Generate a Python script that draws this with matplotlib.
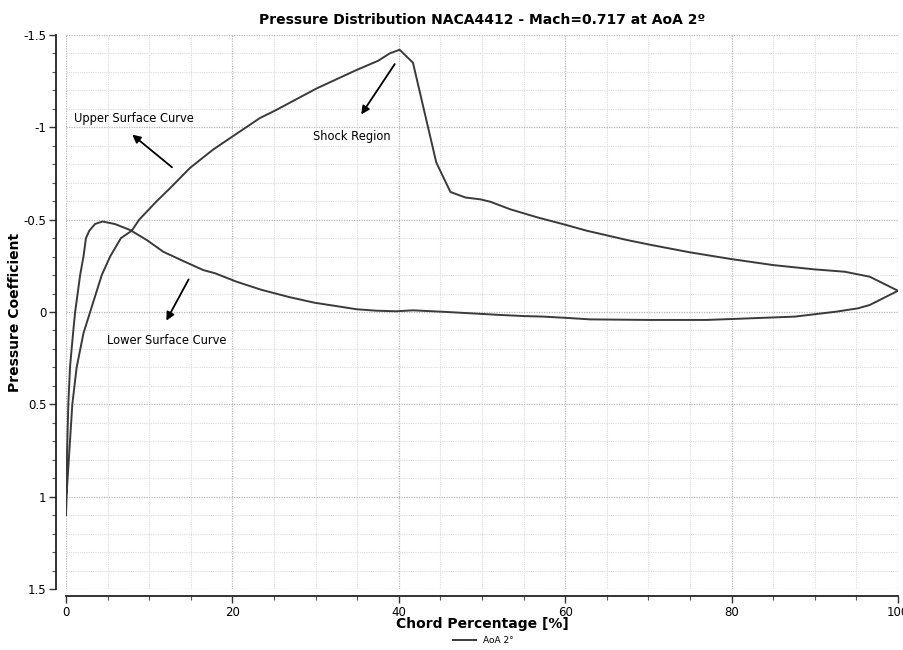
import matplotlib
matplotlib.use("Agg")
import matplotlib.pyplot as plt
from matplotlib.ticker import MultipleLocator, FuncFormatter

# Upper surface (leading edge -> trailing edge)
upper_x = [0, 0.05, 0.28, 0.76, 1.28, 2.1, 2.9, 3.6, 4.3, 5.3, 6.6, 7.9, 8.8, 10.9, 12.5,
           14.9, 17.7, 20.0, 23.3, 25.1, 30.1, 34.9, 37.5, 38.9, 40.1, 41.7, 44.5, 46.2,
           48.0, 49.8, 51.0, 53.4, 56.6, 59.8, 62.6, 65.0, 67.4, 70.1, 75.0, 79.9, 85.0,
           89.9, 93.6, 96.6, 100]
upper_cp = [1.1, 1.0, 0.84, 0.5, 0.3, 0.115, 0.0, -0.1, -0.2, -0.3, -0.4, -0.44, -0.5, -0.6,
            -0.67, -0.78, -0.88, -0.95, -1.05, -1.09, -1.21, -1.31, -1.36, -1.40, -1.42,
            -1.35, -0.81, -0.65, -0.62, -0.61, -0.597, -0.556, -0.513, -0.475, -0.44,
            -0.415, -0.39, -0.365, -0.323, -0.287, -0.254, -0.231, -0.218, -0.191, -0.115]

# Lower surface (leading edge -> trailing edge)
lower_x = [0, 0.08, 0.28, 0.48, 0.88, 1.1, 1.4, 1.7, 2.1, 2.4, 2.8, 3.5, 4.4, 5.9, 7.7,
           9.7, 11.7, 13.9, 16.5, 17.9, 20.5, 23.5, 26.9, 29.9, 32.5, 34.9, 37.3, 39.7,
           41.7, 45.0, 48.6, 52.2, 55.0, 57.4, 60.2, 63.0, 70.0, 77.0, 80.0, 87.6, 92.6,
           95.2, 96.6, 100]
lower_cp = [1.1, 0.84, 0.5, 0.3, 0.1, 0.0, -0.1, -0.2, -0.3, -0.4, -0.44, -0.477, -0.49,
            -0.476, -0.444, -0.39, -0.326, -0.28, -0.227, -0.21, -0.164, -0.12, -0.08,
            -0.05, -0.032, -0.015, -0.007, -0.004, -0.009, -0.002, 0.007, 0.016, 0.022,
            0.025, 0.032, 0.04, 0.043, 0.043, 0.038, 0.025, -0.002, -0.02, -0.038, -0.115]

# Single closed series: TE -> upper -> LE -> lower -> TE
series_x = upper_x[::-1] + lower_x[1:]
series_cp = upper_cp[::-1] + lower_cp[1:]
series_label = "AoA 2°"

title = "Pressure Distribution NACA4412 - Mach=0.717 at AoA 2º"
xlabel = "Chord Percentage [%]"
ylabel = "Pressure Coefficient"

fig = plt.figure(figsize=(9.04, 6.5), dpi=100)
ax = fig.add_axes([0.073, 0.0938, 0.9204, 0.8524])

ax.plot(series_x, series_cp, color="#3a3a3a", lw=1.4, label=series_label)

ax.set_xlim(0, 100)
ax.set_ylim(1.5, -1.5)

ax.xaxis.set_major_locator(MultipleLocator(20))
ax.xaxis.set_minor_locator(MultipleLocator(5))
ax.yaxis.set_major_locator(MultipleLocator(0.5))
ax.yaxis.set_minor_locator(MultipleLocator(0.1))
ax.yaxis.set_major_formatter(FuncFormatter(lambda v, p: f"{v:g}"))

ax.grid(which="major", color="#b8b8b8", linestyle=(0, (1, 1)), lw=0.9)
ax.grid(which="minor", color="#dcdcdc", linestyle=(0, (1, 1)), lw=0.8)
ax.set_axisbelow(True)

for s in ("top", "right"):
    ax.spines[s].set_visible(False)
ax.spines["left"].set_position(("outward", 7))
ax.spines["bottom"].set_position(("outward", 5))
for s in ("left", "bottom"):
    ax.spines[s].set_linewidth(1.3)
    ax.spines[s].set_color("#222222")

ax.tick_params(which="major", length=5, width=1.0, labelsize=8.5, color="#333333", pad=2)
ax.tick_params(which="minor", length=3, width=0.8, color="#555555")

ax.set_title(title, fontsize=10, fontweight="bold", pad=8)
ax.set_xlabel(xlabel, fontsize=10, fontweight="bold", labelpad=-1)
ax.set_ylabel(ylabel, fontsize=10, fontweight="bold", labelpad=1)

arrow = dict(arrowstyle="-|>", color="black", lw=1.3, mutation_scale=12)
ax.annotate("", xy=(7.7, -0.97), xytext=(13.0, -0.774), arrowprops=arrow)
ax.text(8.2, -1.05, "Upper Surface Curve", fontsize=8.3, ha="center", va="center")
ax.annotate("", xy=(11.9, 0.06), xytext=(14.9, -0.19), arrowprops=arrow)
ax.text(12.1, 0.155, "Lower Surface Curve", fontsize=8.3, ha="center", va="center")
ax.annotate("", xy=(35.3, -1.057), xytext=(39.7, -1.355), arrowprops=arrow)
ax.text(34.4, -0.95, "Shock Region", fontsize=8.3, ha="center", va="center")

fig.legend(loc="center", bbox_to_anchor=(0.535, 0.015), frameon=False,
           fontsize=6.5, handlelength=2.5, borderaxespad=0.0, borderpad=0.0)

fig.savefig("out.png", dpi=100)
